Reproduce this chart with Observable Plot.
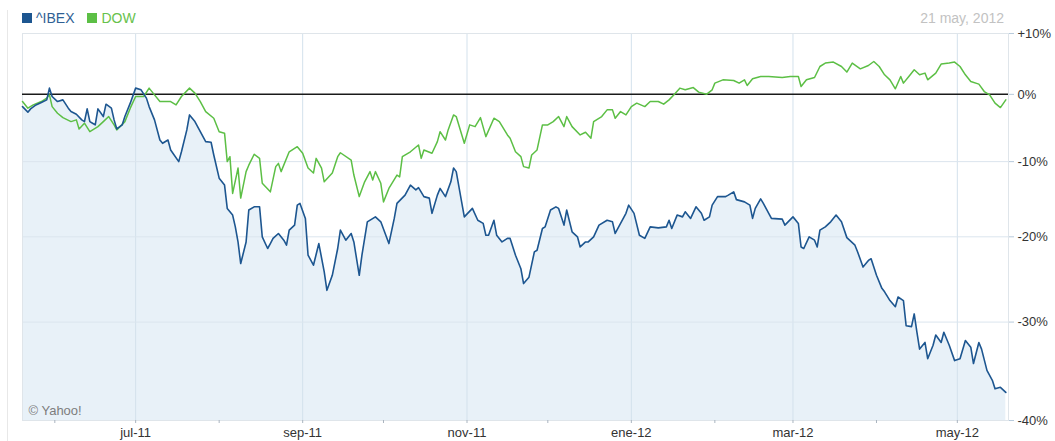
<!DOCTYPE html>
<html><head><meta charset="utf-8">
<script src="https://cdn.jsdelivr.net/npm/d3@7"></script>
<script src="https://cdn.jsdelivr.net/npm/@observablehq/plot@0.6"></script>
<style>
body{margin:0;background:#fff;font-family:"Liberation Sans",Arial,sans-serif;}
#wrap{position:relative;width:1055px;height:441px;overflow:hidden;}
#edge{position:absolute;left:7px;top:10px;width:1px;height:431px;background:#e8e8e8;}
#legend{position:absolute;left:22px;top:10px;font-size:14px;line-height:16px;display:flex;}
.item{display:flex;align-items:center;margin-right:13px;}
.sw{width:10px;height:10px;margin-right:4px;}
#date{position:absolute;right:51px;top:10px;font-size:14px;line-height:16px;color:#c2c2c2;}
#chart{position:absolute;left:0;top:0;}
</style></head><body>
<div id="wrap"><div id="edge"></div><div id="chart"></div><div id="legend"></div><div id="date"></div></div>
<script>
// ---- data ----
const seriesNames = ["^IBEX", "DOW"];
const seriesColors = ["#1d5690", "#5cbf45"];
const legendTextColors = ["#2f5f94", "#67c24c"];
const dateLabel = "21 may, 2012";
const creditLabel = "© Yahoo!";
const startDate = "2011-05-20";   // day 0
const endDay = 366;

// IBEX: days since start, % change
const ibexDay = [0,2,3,5,7,9,10,11,13,15,17,18,20,22,23,24,25,26,27,28,30,31,33,34,35,37,38,40,42,44,46,47,49,51,52,54,55,58,59,61,62,64,66,68,70,71,73,75,76,78,79,80,81,83,84,86,88,89,91,92,93,95,97,98,99,101,102,103,105,106,108,110,112,113,115,117,118,120,122,123,125,126,128,131,133,136,138,139,142,144,146,147,149,151,152,154,155,157,159,160,161,163,164,167,169,171,172,173,175,176,178,180,181,183,185,186,188,190,191,193,194,196,198,199,201,202,204,206,207,209,210,212,214,217,219,220,222,224,225,227,229,231,233,236,239,240,241,243,245,246,248,250,252,253,255,256,258,261,262,264,265,268,270,271,272,274,275,278,282,283,286,288,289,290,292,294,295,296,298,300,302,304,306,309,310,312,314,315,317,319,320,322,324,325,327,328,330,331,332,333,335,336,338,339,341,342,344,346,348,350,352,353,355,356,358,360,361,363,365];
const ibexPct = [-1.9,-2.75,-2.25,-1.64,-1.28,-0.86,0.98,-0.34,-1.12,-0.86,
-2.14,-2.66,-3.06,-3.92,-4.18,-2.25,-4.18,-4.42,-4.67,-2.25,
-3.42,-1.53,-2.14,-3.92,-5.27,-4.67,-3.42,-1.37,0.98,0.71,
-0.59,-1.9,-3.92,-6.9,-7.38,-6.9,-8.34,-10.0,-8.6,-5.42,
-3.17,-4.18,-5.68,-7.14,-7.23,-9.06,-12.3,-13.25,-16.36,-17.23,
-18.74,-20.64,-23.28,-20.64,-16.57,-16.15,-16.15,-20.0,-21.45,-20.84,
-20.2,-19.58,-20.42,-21.04,-19.16,-18.52,-15.93,-15.7,-17.66,-22.27,
-23.48,-20.84,-24.28,-26.43,-24.68,-21.45,-19.16,-20.42,-19.58,-20.64,
-24.68,-22.27,-18.1,-17.46,-18.1,-20.84,-17.66,-15.7,-14.6,-13.25,
-13.9,-13.6,-14.8,-15.0,-17.0,-14.6,-13.7,-14.8,-12.8,-10.9,
-11.4,-15.5,-17.46,-16.36,-17.9,-18.3,-19.8,-19.8,-17.9,-19.8,
-20.64,-20.2,-20.2,-22.27,-23.9,-25.65,-24.9,-21.87,-21.66,-18.95,
-18.74,-16.57,-16.15,-16.36,-18.52,-16.57,-19.37,-20.0,-21.26,-20.64,
-20.64,-20.0,-18.52,-17.9,-18.1,-19.58,-18.3,-17.0,-15.93,-17.0,
-19.8,-20.2,-18.74,-18.87,-18.74,-17.9,-18.95,-17.23,-17.46,-16.8,
-17.66,-16.15,-17.0,-17.9,-17.46,-15.93,-14.8,-14.8,-14.6,-14.16,
-15.2,-15.5,-15.93,-17.66,-16.36,-15.1,-15.7,-17.66,-17.75,-18.52,
-17.46,-18.3,-21.26,-21.45,-20.0,-20.42,-21.26,-19.16,-18.74,-18.1,
-17.23,-18.1,-20.1,-21.04,-21.87,-23.7,-22.9,-22.7,-24.68,-26.2,
-26.6,-27.6,-28.3,-27.2,-27.6,-30.4,-30.5,-29.1,-31.1,-32.9,
-32.2,-33.9,-32.5,-31.4,-32.2,-31.1,-32.5,-34.1,-33.9,-32.0,
-32.7,-34.4,-32.2,-32.9,-35.1,-36.1,-36.95,-36.8,-37.3];

// DOW: days since start, % change
const dowDay = [0,2,4,7,9,10,11,13,15,18,20,21,23,25,28,30,32,34,35,38,40,42,45,47,49,51,54,55,57,59,62,64,66,68,71,73,75,76,77,78,80,81,83,84,86,88,89,92,94,95,96,99,102,104,106,108,109,111,112,115,117,118,122,123,125,127,129,130,131,133,134,136,139,140,141,144,147,148,149,152,154,155,157,158,160,161,164,166,168,170,172,175,177,180,181,183,185,186,188,189,191,193,195,197,199,201,202,204,207,209,211,212,215,217,219,220,222,224,226,228,231,233,236,238,240,242,244,246,249,251,254,256,257,260,264,266,268,269,271,274,277,282,285,288,289,291,294,296,298,301,304,306,308,311,314,316,318,320,322,324,326,327,329,331,333,335,336,339,341,344,346,348,350,352,355,357,359,361,363,365];
const dowPct = [-1.12,-2.14,-1.64,-1.12,-0.59,-0.08,-1.9,-2.91,-3.58,-4.18,
-3.92,-5.27,-4.42,-5.68,-4.93,-4.18,-3.42,-4.67,-5.42,-4.18,
-2.14,-0.34,-0.34,0.98,-0.08,-1.12,-1.12,-1.12,-1.64,-0.34,
0.98,0.19,-1.12,-2.66,-3.67,-5.68,-5.9,-10.0,-9.3,-14.37,
-10.9,-15.0,-11.4,-10.5,-8.96,-9.54,-13.0,-14.16,-10.7,-10.25,
-11.4,-8.6,-7.87,-8.82,-10.9,-11.6,-9.54,-10.9,-12.8,-11.6,
-9.3,-8.74,-9.78,-11.87,-14.8,-12.8,-11.4,-12.56,-11.4,-13.0,
-15.5,-13.7,-11.87,-12.12,-9.3,-8.6,-7.62,-9.54,-8.34,-8.82,
-7.14,-5.68,-6.9,-5.42,-3.17,-3.42,-7.38,-4.67,-4.93,-3.58,
-6.41,-3.67,-4.18,-6.16,-6.64,-8.6,-9.3,-10.7,-10.9,-9.06,
-8.34,-4.67,-4.67,-4.18,-3.42,-4.93,-3.42,-4.93,-6.16,-5.76,
-6.64,-4.18,-3.42,-2.4,-2.4,-3.67,-2.66,-3.17,-1.9,-1.37,
-1.9,-1.12,-1.12,-1.53,-0.86,0.03,0.98,0.71,1.07,0.35,
0.03,0.71,1.77,2.30,2.19,1.77,2.30,1.39,2.46,2.83,
2.83,2.67,2.83,2.83,1.23,2.30,2.67,4.46,5.02,5.19,
4.46,3.55,5.02,4.08,4.62,5.28,4.46,3.11,2.30,0.87,
2.83,1.77,2.83,3.92,3.11,3.38,2.30,3.38,4.85,5.02,
5.19,4.46,3.11,2.03,1.61,0.44,-0.08,-1.37,-2.05,-0.86];

// axis ticks
const monthTicks = ["2011-06-01","2011-07-01","2011-08-01","2011-09-01","2011-10-01","2011-11-01","2011-12-01","2012-01-01","2012-02-01","2012-03-01","2012-04-01","2012-05-01"];
const labeledTicks = ["2011-07-01","2011-09-01","2011-11-01","2012-01-01","2012-03-01","2012-05-01"];
const labeledText = ["jul-11","sep-11","nov-11","ene-12","mar-12","may-12"];
const yTickPct = [10, 0, -10, -20, -30, -40];
const yTickText = ["+10%", "0%", "-10%", "-20%", "-30%", "-40%"];

// ---- build ----
const t0 = new Date(startDate + "T00:00:00Z").getTime();
const toDate = d => new Date(t0 + d * 86400000);
const ibex = ibexDay.map((d, i) => ({date: toDate(d), v: 1 + ibexPct[i] / 100}));
const dow = dowDay.map((d, i) => ({date: toDate(d), v: 1 + dowPct[i] / 100}));
const monthDates = monthTicks.map(s => new Date(s + "T00:00:00Z"));
const labeledDates = labeledTicks.map(s => new Date(s + "T00:00:00Z"));
const labelMap = new Map(labeledDates.map((d, i) => [+d, labeledText[i]]));
const yVals = yTickPct.map(p => 1 + p / 100);
const yLabelOf = v => { const i = yVals.findIndex(t => Math.abs(t - v) < 1e-9); return i >= 0 ? yTickText[i] : ""; };
const yDomain = [1 + yTickPct[yTickPct.length - 1] / 100, 1 + yTickPct[0] / 100];

const chart = Plot.plot({
  width: 1055, height: 441,
  marginLeft: 22, marginRight: 47, marginTop: 33, marginBottom: 21,
  style: {fontFamily: "'Liberation Sans', Arial, sans-serif", background: "transparent"},
  x: {type: "utc", domain: [toDate(0), toDate(endDay)], label: null},
  y: {type: "log", domain: yDomain, label: null},
  marks: [
    Plot.areaY(ibex, {x: "date", y1: yDomain[0], y2: "v", fill: "#e8f1f8"}),
    Plot.gridX(labeledDates, {stroke: "#d3e1ec", strokeOpacity: 1}),
    Plot.gridY(yVals.slice(2, 5), {stroke: "#dbe5ee", strokeOpacity: 1}),
    Plot.frame({stroke: "#dfe5ea"}),
    Plot.ruleY([1], {stroke: "#1a1a1a", strokeWidth: 1.5}),
    Plot.lineY(dow, {x: "date", y: "v", stroke: seriesColors[1], strokeWidth: 1.5}),
    Plot.lineY(ibex, {x: "date", y: "v", stroke: seriesColors[0], strokeWidth: 1.6}),
    Plot.axisX({ticks: monthDates, tickSize: 3, tickPadding: 4, tickFormat: d => labelMap.get(+d) ?? "",
      stroke: "#a9b4bf", fill: "#333", fontSize: 13, label: null}),
    Plot.axisY({anchor: "right", ticks: yVals, tickSize: 5, tickPadding: 4, tickFormat: yLabelOf,
      stroke: "#b7cadb", fill: "#333", fontSize: 13, label: null}),
    Plot.text([creditLabel], {text: d => d, frameAnchor: "bottom-left", dx: 6, dy: -6,
      fill: "#7d7d7d", fontSize: 13, textAnchor: "start"})
  ]
});
document.getElementById("chart").appendChild(chart);

// legend + date
const legend = document.getElementById("legend");
seriesNames.forEach((name, i) => {
  const it = document.createElement("div"); it.className = "item";
  const sw = document.createElement("div"); sw.className = "sw"; sw.style.background = seriesColors[i];
  const tx = document.createElement("span"); tx.textContent = name; tx.style.color = legendTextColors[i];
  it.appendChild(sw); it.appendChild(tx); legend.appendChild(it);
});
document.getElementById("date").textContent = dateLabel;
</script>
</body></html>
